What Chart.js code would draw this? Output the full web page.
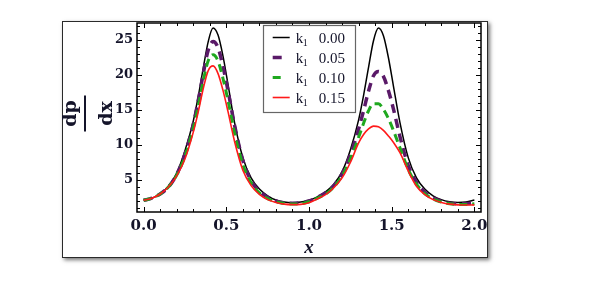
<!DOCTYPE html>
<html><head><meta charset="utf-8">
<script src="https://cdn.jsdelivr.net/npm/chart.js@4.4.1/dist/chart.umd.min.js"></script>
<style>html,body{margin:0;padding:0;background:#fff;}canvas{display:block;}</style>
</head><body>
<canvas id="c" width="591" height="283"></canvas>
<script>
const xValues = [0,0.05,0.1,0.15,0.2,0.25,0.3,0.33,0.36,0.39,0.42,0.45,0.48,0.51,0.55,0.6,0.65,0.7,0.75,0.8,0.85,0.9,0.95,1.0,
  1.05,1.1,1.15,1.2,1.25,1.3,1.33,1.36,1.39,1.42,1.45,1.48,1.51,1.55,1.6,1.65,1.7,1.75,1.8,1.85,1.9,1.95,2.0];
const k1Labels = ['0.00','0.05','0.10','0.15'];
const dpdxK000 = [2.1,2.4,3.0,4.1,6.0,9.2,13.4,16.9,20.9,24.7,26.7,25.7,22.7,18.7,13.2,8.2,5.3,3.7,2.75,2.15,1.85,1.75,1.85,2.1,
  2.6,3.3,4.4,6.2,9.3,13.6,17.1,21.1,24.9,26.7,25.6,22.5,18.5,13.2,8.2,5.3,3.7,2.75,2.2,1.9,1.78,1.85,2.15];
const dpdxK005 = [2.1,2.4,3.0,4.0,5.8,8.7,12.9,16.3,20.1,23.5,24.8,23.9,21.2,17.8,12.8,7.8,4.9,3.4,2.55,2.0,1.75,1.68,1.75,2.0,
  2.5,3.2,4.2,5.9,8.6,12.3,14.9,17.7,19.9,20.5,19.8,17.8,15.2,11.2,7.1,4.7,3.25,2.45,1.95,1.7,1.6,1.62,1.75];
const dpdxK010 = [2.1,2.4,3.0,4.0,5.7,8.4,12.4,15.5,19.1,22.0,22.9,22.0,19.5,16.4,11.7,7.2,4.6,3.15,2.35,1.9,1.65,1.58,1.62,1.9,
  2.4,3.0,4.0,5.6,8.0,11.1,13.1,14.9,15.9,15.9,15.1,13.8,12.1,9.6,6.5,4.4,3.05,2.3,1.85,1.6,1.5,1.5,1.6];
const dpdxK015 = [2.1,2.4,3.0,4.0,5.6,8.0,11.8,14.7,18.0,20.6,21.3,20.2,17.8,14.8,10.5,6.4,4.2,2.95,2.2,1.8,1.55,1.48,1.52,1.75,
  2.3,2.9,3.9,5.3,7.5,10.3,11.5,12.3,12.7,12.6,12.1,11.3,10.4,8.9,6.3,4.1,2.9,2.2,1.8,1.55,1.45,1.42,1.45];
const xTickValues = [0,0.5,1,1.5,2];
const yTickValues = [5,10,15,20,25];

const seriesValues = [dpdxK000, dpdxK005, dpdxK010, dpdxK015];
const seriesStyles = [
  {color:'#000000', width:1.5, dash:[]},
  {color:'#5a1a68', width:3.5, dash:[9,6]},
  {color:'#1fa81f', width:3, dash:[8,5]},
  {color:'#ff1a1a', width:1.6, dash:[]}
];
const textColor = '#14142a';

const datasets = seriesValues.map((vals,i)=>({
  label: 'k1 ' + k1Labels[i],
  data: xValues.map((x,j)=>({x:x, y:vals[j]})),
  borderColor: seriesStyles[i].color,
  borderWidth: seriesStyles[i].width,
  borderDash: seriesStyles[i].dash,
  pointRadius: 0,
  fill: false,
  cubicInterpolationMode: 'monotone',
  order: seriesValues.length - i
}));

const decor = {
  id: 'decor',
  beforeDraw(chart){
    const ctx = chart.ctx, ca = chart.chartArea;
    ctx.save();
    ctx.fillStyle = '#fff';
    ctx.fillRect(0,0,chart.width,chart.height);
    const fx = ca.left - 75, fy = ca.top - 2, fw = ca.right - ca.left + 82, fh = ca.bottom - ca.top + 48;
    ctx.shadowColor = 'rgba(0,0,0,0.55)';
    ctx.shadowBlur = 4; ctx.shadowOffsetX = 2; ctx.shadowOffsetY = 2;
    ctx.fillStyle = '#fff';
    ctx.fillRect(fx, fy, fw, fh);
    ctx.shadowColor = 'transparent';
    ctx.strokeStyle = '#2a2a2a'; ctx.lineWidth = 1;
    ctx.strokeRect(fx + 0.5, fy + 0.5, fw - 1, fh - 1);
    ctx.restore();
  },
  afterDatasetsDraw(chart){
    const ctx = chart.ctx, ca = chart.chartArea;
    const xs = chart.scales.x, ys = chart.scales.y;
    ctx.save();
    ctx.strokeStyle = '#000'; ctx.lineWidth = 1;
    ctx.beginPath();
    for (let i = 0; i <= 20; i++) {
      const v = i / 10;
      const px = Math.round(xs.getPixelForValue(v)) + 0.5;
      const len = (i % 5 === 0) ? 5 : 3;
      ctx.moveTo(px, ca.bottom); ctx.lineTo(px, ca.bottom - len);
      ctx.moveTo(px, ca.top); ctx.lineTo(px, ca.top + len);
    }
    for (let v = 1; v <= 27; v++) {
      const py = Math.round(ys.getPixelForValue(v)) + 0.5;
      const len = (v % 5 === 0) ? 5 : 3;
      ctx.moveTo(ca.left, py); ctx.lineTo(ca.left + len, py);
      ctx.moveTo(ca.right, py); ctx.lineTo(ca.right - len, py);
    }
    ctx.stroke();
    ctx.lineWidth = 1.5;
    ctx.strokeRect(ca.left, ca.top, ca.right - ca.left, ca.bottom - ca.top);

    // y-axis label as fraction dp/dx
    ctx.save();
    ctx.translate(ca.left - 52, (ca.top + ca.bottom) / 2 - 4);
    ctx.rotate(-Math.PI / 2);
    ctx.fillStyle = textColor;
    ctx.font = 'bold 19px "DejaVu Serif"';
    ctx.textAlign = 'center'; ctx.textBaseline = 'alphabetic';
    ctx.fillText('dp', 0, -9);
    ctx.fillText('dx', 0, 27);
    ctx.strokeStyle = textColor; ctx.lineWidth = 2;
    ctx.beginPath(); ctx.moveTo(-18, 0); ctx.lineTo(18, 0); ctx.stroke();
    ctx.restore();

    // legend
    const lx = xs.getPixelForValue(0.72), ly = ca.top + 2;
    const lw = 92, lh = 87;
    ctx.fillStyle = '#fff';
    ctx.fillRect(lx, ly, lw, lh);
    ctx.strokeStyle = '#666'; ctx.lineWidth = 1.2;
    ctx.strokeRect(Math.round(lx) + 0.5, ly + 0.5, lw, lh);
    chart.data.datasets.forEach((ds, i) => {
      const y = ly + 12.5 + i * 20;
      const dash = ds.borderDash || [];
      ctx.save();
      ctx.strokeStyle = ds.borderColor; ctx.lineWidth = ds.borderWidth;
      ctx.beginPath(); ctx.moveTo(lx + 10, y); ctx.lineTo(lx + (dash.length ? 10 + dash[0] : 27), y); ctx.stroke();
      ctx.restore();
      ctx.fillStyle = textColor;
      ctx.textAlign = 'left'; ctx.textBaseline = 'alphabetic';
      ctx.font = '15px "Liberation Serif"';
      ctx.fillText('k', lx + 33, y + 5);
      ctx.font = '10px "Liberation Serif"';
      ctx.fillText('1', lx + 40, y + 8);
      ctx.font = '15px "Liberation Serif"';
      ctx.fillText(k1Labels[i], lx + 56, y + 5);
    });
    ctx.restore();
  }
};

new Chart(document.getElementById('c'), {
  type: 'line',
  data: { datasets },
  options: {
    responsive: false,
    animation: false,
    devicePixelRatio: 1,
    layout: { padding: { top: 23, right: 110, left: 0, bottom: 0 } },
    plugins: { legend: { display: false }, tooltip: { enabled: false } },
    scales: {
      x: {
        type: 'linear', min: -0.04, max: 2.04,
        grid: { display: false, drawTicks: false },
        border: { display: false },
        afterBuildTicks: s => { s.ticks = xTickValues.map(v => ({ value: v })); },
        afterFit: s => { s.height = 71; },
        ticks: {
          color: textColor, padding: 5,
          font: { family: '"DejaVu Serif"', size: 15, weight: 'bold' },
          callback: v => Number(v).toFixed(1),
          maxRotation: 0, autoSkip: false
        },
        title: {
          display: true, text: 'x', color: textColor,
          font: { family: '"Liberation Serif"', size: 19, weight: 'bold', style: 'italic' },
          padding: { top: 0, bottom: 24 }
        }
      },
      y: {
        type: 'linear', min: 0.43, max: 27.43,
        grid: { display: false, drawTicks: false },
        border: { display: false },
        afterBuildTicks: s => { s.ticks = yTickValues.map(v => ({ value: v })); },
        afterFit: s => { s.width = 137; },
        ticks: {
          color: textColor, padding: 4,
          font: { family: '"DejaVu Serif"', size: 13, weight: 'bold' },
          callback: v => String(v),
          autoSkip: false
        }
      }
    }
  },
  plugins: [decor]
});
</script>
</body></html>
